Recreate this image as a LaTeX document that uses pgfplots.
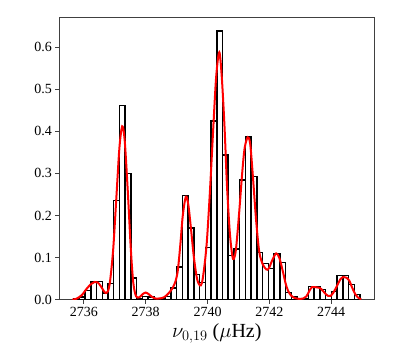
\documentclass[border=0pt]{standalone}
\usepackage{fontspec}
\setmainfont{Liberation Serif}
\usepackage{pgfplots}
\pgfplotsset{compat=1.18}

\begin{document}
\begin{tikzpicture}
\begin{axis}[
  scale only axis,
  width=315pt,height=282.4pt,
  xmin=2735.207,xmax=2745.393,
  ymin=0,ymax=0.671,
  xtick={2736,2738,2740,2742,2744},
  ytick={0,0.1,0.2,0.3,0.4,0.5,0.6},
  yticklabel style={/pgf/number format/.cd,fixed,fixed zerofill,precision=1},
  xticklabel style={/pgf/number format/.cd,set thousands separator={}},
  /pgf/number format/assume math mode=true,
  tick label style={font=\fontsize{14}{14}\selectfont},
  label style={font=\fontsize{20}{22}\selectfont},
  xlabel={$\nu_{0,19}$ ($\mu$Hz)},
  xtick pos=bottom, ytick pos=left,
  tick align=outside,
  major tick length=4pt,
  minor tick num=0,
  axis line style={black!75,line width=0.8pt},
  every tick/.style={black!75,line width=0.8pt},
]
% histogram (density), 50 bins; left edges, last row closes the interval
\addplot[ybar interval,draw=black,fill=none,line width=1.5pt] coordinates {
  (2735.670,0.002) (2735.855,0.007) (2736.040,0.022) (2736.226,0.043)
  (2736.411,0.043) (2736.596,0.016) (2736.781,0.038) (2736.966,0.236)
  (2737.152,0.461) (2737.337,0.300) (2737.522,0.052) (2737.707,0.003)
  (2737.892,0.008) (2738.078,0.006) (2738.263,0.003) (2738.448,0.003)
  (2738.633,0.008) (2738.818,0.028) (2739.004,0.078) (2739.189,0.247)
  (2739.374,0.170) (2739.559,0.060) (2739.744,0.041) (2739.930,0.124)
  (2740.115,0.425) (2740.300,0.639) (2740.485,0.344) (2740.670,0.105)
  (2740.856,0.120) (2741.041,0.284) (2741.226,0.386) (2741.411,0.293)
  (2741.596,0.112) (2741.782,0.086) (2741.967,0.074) (2742.152,0.110)
  (2742.337,0.088) (2742.522,0.017) (2742.708,0.007) (2742.893,0.002)
  (2743.078,0.002) (2743.263,0.031) (2743.448,0.030) (2743.634,0.024)
  (2743.819,0.010) (2744.004,0.020) (2744.189,0.058) (2744.374,0.058)
  (2744.560,0.036) (2744.745,0.012) (2744.930,0.012)};
% kernel density estimate
\addplot[red,line width=2pt,smooth,no markers] coordinates {
  (2735.63,0.000) (2735.75,0.002) (2735.85,0.006) (2735.95,0.012)
  (2736.05,0.022) (2736.20,0.035) (2736.35,0.042) (2736.45,0.041)
  (2736.55,0.032) (2736.65,0.020) (2736.70,0.016) (2736.78,0.020)
  (2736.85,0.045) (2736.95,0.120) (2737.05,0.240) (2737.15,0.360)
  (2737.24,0.412) (2737.32,0.380) (2737.42,0.260) (2737.52,0.120)
  (2737.60,0.040) (2737.69,0.008) (2737.80,0.006) (2737.90,0.013)
  (2738.00,0.017) (2738.10,0.013) (2738.20,0.007) (2738.30,0.003)
  (2738.45,0.003) (2738.60,0.006) (2738.75,0.016) (2738.88,0.029)
  (2738.97,0.045) (2739.04,0.070) (2739.12,0.130) (2739.20,0.200)
  (2739.30,0.245) (2739.38,0.225) (2739.47,0.165) (2739.56,0.100)
  (2739.66,0.050) (2739.75,0.034) (2739.82,0.040) (2739.90,0.080)
  (2739.98,0.140) (2740.08,0.260) (2740.18,0.400) (2740.28,0.530)
  (2740.38,0.588) (2740.46,0.530) (2740.55,0.410) (2740.63,0.270)
  (2740.72,0.160) (2740.80,0.105) (2740.85,0.097) (2740.92,0.120)
  (2741.02,0.204) (2741.12,0.300) (2741.20,0.360) (2741.30,0.386)
  (2741.38,0.370) (2741.47,0.290) (2741.57,0.190) (2741.67,0.115)
  (2741.78,0.085) (2741.90,0.072) (2741.98,0.074) (2742.10,0.095)
  (2742.22,0.110) (2742.32,0.100) (2742.44,0.066) (2742.52,0.040)
  (2742.60,0.022) (2742.70,0.010) (2742.82,0.004) (2742.95,0.002)
  (2743.10,0.003) (2743.20,0.008) (2743.30,0.022) (2743.38,0.030)
  (2743.47,0.030) (2743.56,0.029) (2743.63,0.028) (2743.72,0.022)
  (2743.80,0.015) (2743.90,0.009) (2743.98,0.009) (2744.08,0.018)
  (2744.18,0.032) (2744.30,0.049) (2744.40,0.054) (2744.50,0.052)
  (2744.58,0.046) (2744.67,0.030) (2744.77,0.014) (2744.87,0.005)
  (2744.97,0.001)};
\end{axis}
\path (current axis.south west) ++(-59.3pt,-53.3pt) rectangle ++(395pt,353pt);
\end{tikzpicture}
\end{document}
